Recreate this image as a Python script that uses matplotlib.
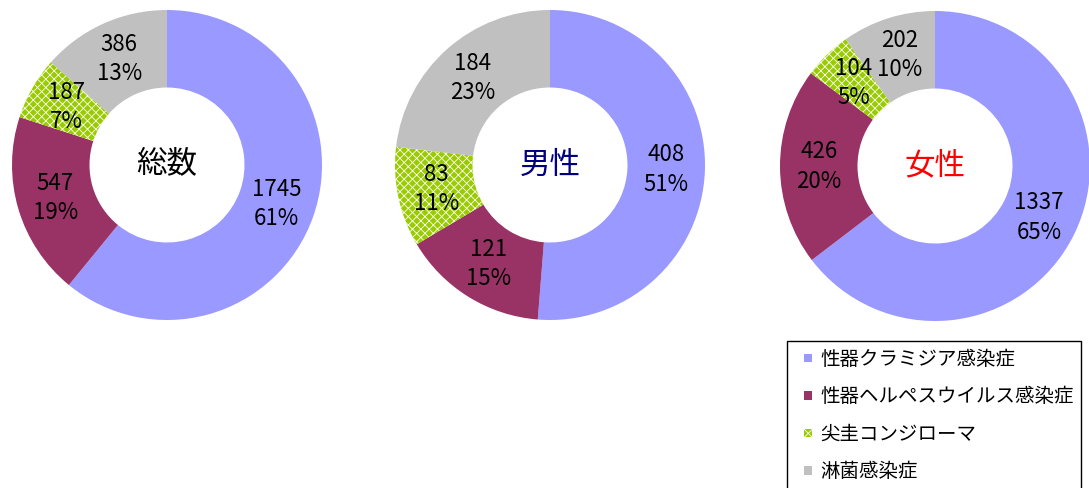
import matplotlib
matplotlib.use("Agg")
import matplotlib.pyplot as plt
from matplotlib.patches import Patch, Rectangle
from matplotlib.legend_handler import HandlerPatch
import numpy as np

plt.rcParams["font.family"] = ["Noto Sans CJK JP", "DejaVu Sans"]
plt.rcParams["hatch.linewidth"] = 0.6

# Data
categories = ["性器クラミジア感染症", "性器ヘルペスウイルス感染症", "尖圭コンジローマ", "淋菌感染症"]
chart_titles = ["総数", "男性", "女性"]
title_colors = ["black", "#000080", "red"]

total_values = [1745, 547, 187, 386]
male_values = [408, 121, 83, 184]
female_values = [1337, 426, 104, 202]

total_pct = ["61%", "19%", "7%", "13%"]
male_pct = ["51%", "15%", "11%", "23%"]
female_pct = ["65%", "20%", "5%", "10%"]

colors = ["#9999FF", "#993366", "#99CC00", "#C0C0C0"]
hatches = [None, None, "xxxx", None]

W, H = 1089, 488
fig = plt.figure(figsize=(W / 100, H / 100), dpi=100)

# (center x, center y) in pixels, outer radius in pixels
centers = [(167, 165), (550, 165), (935, 166)]
radius_px = 155

series = [
    (total_values, total_pct),
    (male_values, male_pct),
    (female_values, female_pct),
]

for (cx, cy), (vals, pcts), title, tcolor in zip(centers, series, chart_titles, title_colors):
    ax = fig.add_axes([(cx - radius_px) / W, (H - cy - radius_px) / H,
                       2 * radius_px / W, 2 * radius_px / H])
    wedges, _ = ax.pie(vals, colors=colors, startangle=90, counterclock=False,
                       radius=1.0, wedgeprops=dict(width=0.5, linewidth=0))
    for w, h in zip(wedges, hatches):
        if h:
            w.set_hatch(h)
            w.set_edgecolor("white")
            w.set_linewidth(0)

    # value + percent labels sit in the middle of the ring
    for w, v, p in zip(wedges, vals, pcts):
        mid = np.deg2rad((w.theta1 + w.theta2) / 2)
        r = 0.75
        ax.text(r * np.cos(mid), r * np.sin(mid), f"{v}\n{p}", ha="center", va="center",
                fontsize=16, linespacing=1.35, color="black")

    ax.text(0, 0, title, ha="center", va="center", fontsize=22, color=tcolor)
    ax.set_xlim(-1, 1)
    ax.set_ylim(-1, 1)
    ax.set_aspect("equal")
    ax.axis("off")


def small_square(legend, orig_handle, xdescent, ydescent, width, height, fontsize):
    s = 0.45 * fontsize
    return Rectangle((-xdescent + width - s, -ydescent + (height - s) / 2), s, s)


handles = [Patch(facecolor=c, hatch=h, edgecolor="white" if h else c, linewidth=0)
           for c, h in zip(colors, hatches)]
leg = fig.legend(handles, categories, loc="upper left",
                 bbox_to_anchor=(787 / W, 1 - 341 / H), fontsize=14,
                 handlelength=0.9, handleheight=0.7, handletextpad=0.4,
                 labelspacing=0.85, borderpad=0.4, borderaxespad=0,
                 fancybox=False, framealpha=1, edgecolor="black",
                 handler_map={Patch: HandlerPatch(patch_func=small_square)})
leg.get_frame().set_linewidth(1.0)

fig.savefig("out.png", dpi=100)
